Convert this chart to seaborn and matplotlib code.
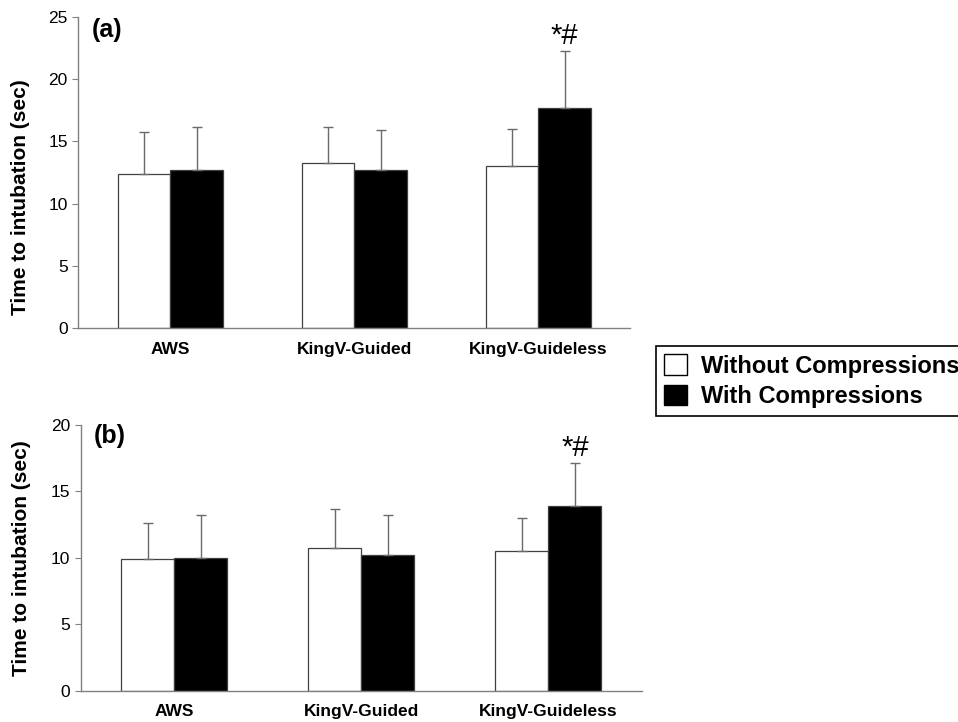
import pandas as pd
import seaborn as sns
import matplotlib.pyplot as plt
from matplotlib.patches import Patch

# datos
devices = ['AWS', 'KingV-Guided', 'KingV-Guideless']
conditions = ['Without Compressions', 'With Compressions']

a_without = [12.4, 13.3, 13.0]
a_without_sd = [3.4, 2.9, 3.0]
a_with = [12.7, 12.7, 17.7]
a_with_sd = [3.5, 3.2, 4.6]

b_without = [9.9, 10.7, 10.5]
b_without_sd = [2.7, 3.0, 2.5]
b_with = [10.0, 10.2, 13.9]
b_with_sd = [3.2, 3.0, 3.25]

mark = '*#'
mark_device = 'KingV-Guideless'

sns.set_style('white')
plt.rcParams['font.family'] = ['Liberation Sans', 'DejaVu Sans']
plt.rcParams['text.color'] = 'black'
plt.rcParams['axes.labelcolor'] = 'black'

GRIS = '#808080'


def hacer_panel(ax, without, without_sd, with_, with_sd, ymax, letra, ylab_y):
    df = pd.DataFrame({
        'device': devices * 2,
        'condition': [conditions[0]] * 3 + [conditions[1]] * 3,
        'time': without + with_,
    })
    sd = {conditions[0]: without_sd, conditions[1]: with_sd}
    sns.barplot(data=df, x='device', y='time', hue='condition',
                order=devices, hue_order=conditions,
                palette=['white', 'black'], width=0.57, saturation=1,
                edgecolor='#404040', linewidth=0.9, errorbar=None,
                legend=False, ax=ax)

    # barras de error solo hacia arriba
    for cont, cond in zip(ax.containers, conditions):
        xs = [b.get_x() + b.get_width() / 2 for b in cont]
        hs = [b.get_height() for b in cont]
        ax.errorbar(xs, hs, yerr=[[0] * len(hs), sd[cond]], fmt='none',
                    ecolor='#6a6a6a', elinewidth=1.0, capsize=3.5,
                    capthick=1.0, zorder=1)
        if cond == conditions[1]:
            i = devices.index(mark_device)
            ax.text(xs[i], hs[i] + sd[cond][i] + ymax * 0.004, mark,
                    ha='center', va='bottom', fontsize=21)

    ax.set_xlim(-0.5, 2.5)
    ax.set_ylim(0, ymax)
    ax.set_yticks(range(0, ymax + 1, 5))
    ax.set_xlabel('')
    ax.set_ylabel('Time to intubation (sec)', fontsize=15, fontweight='bold')
    ax.yaxis.set_label_coords(-0.088, ylab_y)
    ax.set_xticks([-0.5, 0.5, 1.5, 2.5], minor=True)
    ax.tick_params(axis='x', which='major', length=0, pad=10,
                   labelcolor='black')
    ax.tick_params(axis='x', which='minor', length=3, width=0.8,
                   color=GRIS, direction='out')
    ax.tick_params(axis='y', length=4.5, width=0.8, color=GRIS,
                   direction='out', pad=3, labelsize=12.5, left=True,
                   labelcolor='black')
    for t in ax.get_xticklabels():
        t.set_fontweight('bold')
        t.set_fontsize(12.5)
    sns.despine(ax=ax)
    for s in ['left', 'bottom']:
        ax.spines[s].set_color(GRIS)
        ax.spines[s].set_linewidth(1.0)
    ax.text(0.052, 0.96, letra, transform=ax.transAxes, ha='center',
            va='center', fontsize=18, fontweight='bold')


fig = plt.figure(figsize=(9.58, 7.22), dpi=100)
ax_a = fig.add_axes([0.0817, 0.5461, 0.5764, 0.4299])
ax_b = fig.add_axes([0.0842, 0.0436, 0.5856, 0.3679])

hacer_panel(ax_a, a_without, a_without_sd, a_with, a_with_sd, 25, '(a)', 0.42)
hacer_panel(ax_b, b_without, b_without_sd, b_with, b_with_sd, 20, '(b)', 0.5)

handles = [Patch(facecolor='white', edgecolor='black', linewidth=1.0),
           Patch(facecolor='black', edgecolor='black', linewidth=1.0)]
leg = fig.legend(handles, conditions, loc='upper left',
                 bbox_to_anchor=(656 / 958, 1 - 346 / 722),
                 prop={'weight': 'bold', 'size': 17},
                 handlelength=0.95, handleheight=0.95, handletextpad=0.6,
                 borderpad=0.35, labelspacing=0.3, borderaxespad=0,
                 fancybox=False, framealpha=1)
leg.get_frame().set_edgecolor('black')
leg.get_frame().set_linewidth(1.2)

plt.savefig('out.png', dpi=100)
